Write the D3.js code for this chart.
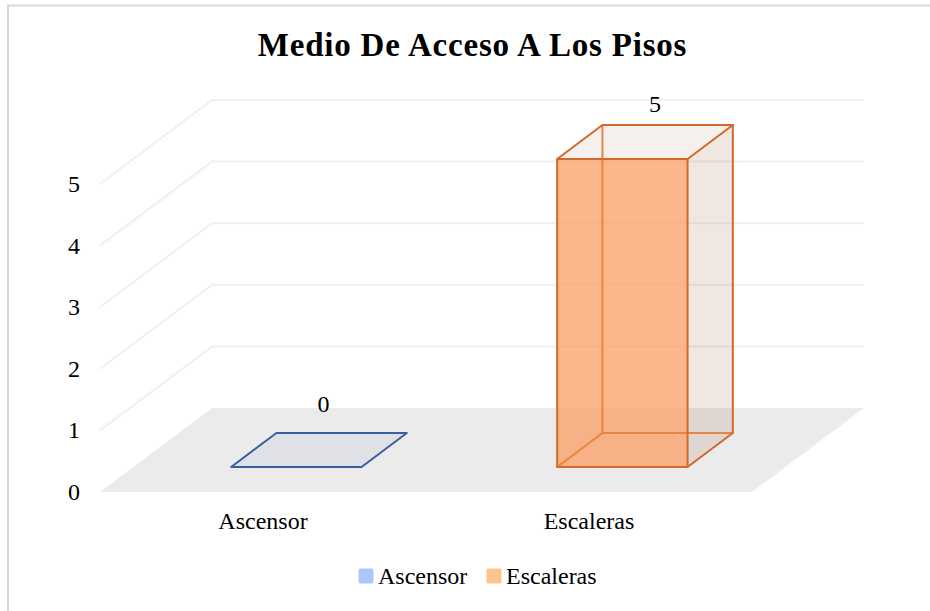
<!DOCTYPE html>
<html><head><meta charset="utf-8">
<script src="https://cdnjs.cloudflare.com/ajax/libs/d3/7.8.5/d3.min.js"></script>
<style>html,body{margin:0;padding:0;background:#fff}svg{display:block}text{font-family:"Liberation Serif",serif;fill:#000}</style>
</head><body><svg id="c" width="930" height="611"></svg>
<script>
const title = "Medio De Acceso A Los Pisos";
const categories = ["Ascensor", "Escaleras"];
const values = [0, 5];
const yTicks = [0, 1, 2, 3, 4, 5];
const frontFills = ["#dfe1e6", "#fc9c62"];
const edgeDark = ["#3a5fa0", "#cf6a2a"];
const edgeLight = ["#3a5fa0", "#e8843f"];
const legendFills = ["#a9c8f7", "#fdc48c"];

const svg = d3.select("#c");
svg.append("path").attr("d","M8,611V5.5H930").attr("fill","none").attr("stroke","#d9d9d9").attr("stroke-width",2);

const x = d3.scaleBand().domain(categories).range([100,752]);
const y = d3.scaleLinear().domain([0,5]).range([0,308]);
const depth = d3.scaleLinear().domain([0,1]).range([0,1]);
const DX = 112, DY = 84, Y0 = 492, FS = 24;
const px = (xv,d)=> xv + DX*depth(d);
const py = (v,d)=> Y0 - DY*depth(d) - y(v);
const poly = pts => "M"+pts.map(p=>p.join(",")).join("L")+"Z";
const line = pts => "M"+pts.map(p=>p.join(",")).join("L");

svg.append("path").attr("d",poly([[px(100,0),py(0,0)],[px(752,0),py(0,0)],[px(752,1),py(0,1)],[px(100,1),py(0,1)]])).attr("fill","#ebebeb");
yTicks.slice(1).forEach(t=>{
  svg.append("path").attr("d",line([[px(100,0),py(t,0)],[px(100,1),py(t,1)],[px(752,1),py(t,1)]]))
    .attr("fill","none").attr("stroke","#f0f0f0").attr("stroke-width",2);
});
svg.selectAll(".yl").data(yTicks).join("text").attr("class","yl")
  .attr("x",80).attr("y",d=>py(d,0)+8).attr("text-anchor","end").attr("font-size",FS).text(d=>d);

const D0=0.298, D1=0.702, barFrac=0.4;
categories.forEach((c,i)=>{
  const bw=x.bandwidth()*barFrac, x0=x(c)+(x.bandwidth()-bw)/2, x1=x0+bw, v=values[i];
  const g=svg.append("g").attr("stroke-linejoin","round").attr("stroke-linecap","round");
  const P=(a,h,d)=>[px(a,d),py(h,d)];
  const face=(pts,fill,op)=>g.append("path").attr("d",poly(pts)).attr("fill",fill).attr("fill-opacity",op).attr("stroke","none");
  const edge=(pts,col)=>g.append("path").attr("d",line(pts)).attr("fill","none").attr("stroke",col).attr("stroke-width",2);
  if(v>0){
    face([P(x1,0,D0),P(x1,0,D1),P(x1,v,D1),P(x1,v,D0)],"#a0674a",0.16);
    face([P(x0,v,D0),P(x1,v,D0),P(x1,v,D1),P(x0,v,D1)],"#a0674a",0.1);
    face([P(x0,0,D0),P(x1,0,D0),P(x1,v,D0),P(x0,v,D0)],frontFills[i],0.74);
    edge([P(x0,0,D0),P(x0,0,D1),P(x1,0,D1)],edgeLight[i]);
    edge([P(x0,0,D1),P(x0,v,D1)],edgeLight[i]);
    edge([P(x1,0,D0),P(x1,0,D1),P(x1,v,D1)],edgeDark[i]);
    edge([P(x0,v,D0),P(x0,v,D1),P(x1,v,D1),P(x1,v,D0)],edgeDark[i]);
    g.append("path").attr("d",poly([P(x0,0,D0),P(x1,0,D0),P(x1,v,D0),P(x0,v,D0)])).attr("fill","none").attr("stroke",edgeDark[i]).attr("stroke-width",2);
  } else {
    face([P(x0,0,D0),P(x1,0,D0),P(x1,0,D1),P(x0,0,D1)],frontFills[i],1);
    g.append("path").attr("d",poly([P(x0,0,D0),P(x1,0,D0),P(x1,0,D1),P(x0,0,D1)])).attr("fill","none").attr("stroke",edgeDark[i]).attr("stroke-width",2);
  }
  svg.append("text").attr("x",(x0+x1)/2+DX*(D0+D1)/2+(i===0?4.5:10)).attr("y",py(v,D1)-(v>0?13:21))
    .attr("text-anchor","middle").attr("font-size",FS).text(v);
  svg.append("text").attr("x",x(c)+x.bandwidth()/2).attr("y",529).attr("text-anchor","middle").attr("font-size",FS).text(c);
});
svg.append("text").attr("x",472.5).attr("y",56).attr("text-anchor","middle").attr("font-size",33).attr("font-weight","bold").attr("letter-spacing","0.8").text(title);
const lx=[359,487], tx=[378,506];
categories.forEach((c,i)=>{
  svg.append("rect").attr("x",lx[i]).attr("y",569).attr("width",14).attr("height",14).attr("rx",1).attr("fill",legendFills[i]).attr("stroke",legendFills[i]).attr("stroke-width",1);
  svg.append("text").attr("x",tx[i]).attr("y",584).attr("font-size",FS).text(c);
});
</script></body></html>
